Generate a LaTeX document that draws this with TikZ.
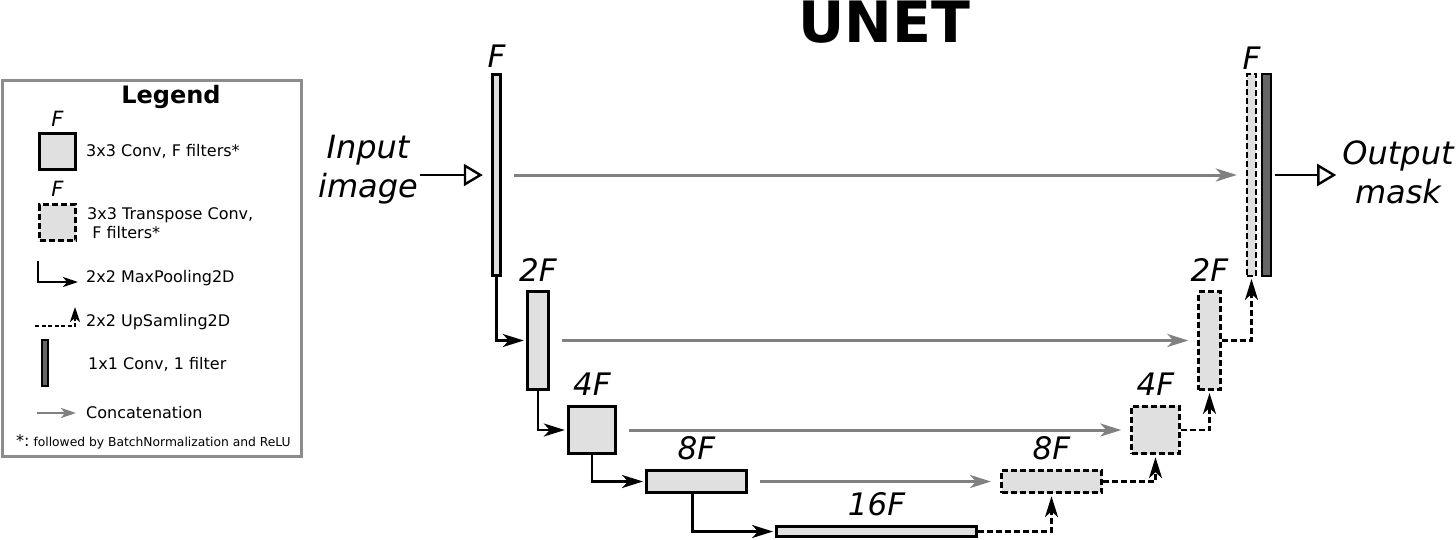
\documentclass[tikz,border=0pt]{standalone}
\usepackage{fontspec}
\setmainfont{DejaVu Sans}[ItalicFont={DejaVu Sans Oblique},BoldFont={DejaVu Sans Bold},BoldItalicFont={DejaVu Sans Bold Oblique}]
\usetikzlibrary{arrows.meta,positioning}

\definecolor{boxfill}{HTML}{E0E0E0}
\definecolor{onefill}{HTML}{666666}
\definecolor{catgray}{HTML}{808080}
\definecolor{leggray}{HTML}{8C8C8C}

\tikzset{
	conv/.style={draw=black,line width=2.9pt,fill=boxfill,inner sep=0pt},
	tconv/.style={conv,dash pattern=on 6pt off 3pt},
	oneconv/.style={conv,line width=2.2pt,fill=onefill},
	lbl/.style={font=\fontsize{31}{31}\selectfont\itshape,inner sep=0pt},
	leglbl/.style={font=\fontsize{21}{21}\selectfont\itshape,inner sep=0pt},
	pool/.style={line width=2.6pt,shorten >=2pt,-{Stealth[length=21pt,width=13pt,inset=6pt]}},
	upsmp/.style={pool,dash pattern=on 6pt off 3pt},
	concat/.style={draw=catgray,line width=3pt,shorten <=12pt,shorten >=9pt,-{Stealth[length=21pt,width=13pt,inset=6pt]}},
	legpool/.style={line width=2.3pt,-{Stealth[length=15pt,width=10pt,inset=4pt]}},
	legup/.style={legpool,dash pattern=on 4pt off 2.5pt},
	legcat/.style={draw=catgray,line width=2.6pt,-{Stealth[length=15pt,width=10pt,inset=4pt]}},
	io/.style={line width=2.4pt,-{Triangle[open,length=19pt,width=22pt,fill=white]}},
	iotext/.style={font=\fontsize{32}{39}\selectfont\itshape,align=center,inner sep=2pt},
	legtext/.style={font=\fontsize{16}{19}\selectfont,anchor=west,inner sep=0pt,align=left}
}

\begin{document}
\begin{tikzpicture}[x=1pt,y=-1pt]
	\useasboundingbox (0,0) rectangle (1456,539);
	\node[font=\fontsize{57}{57}\selectfont\bfseries,anchor=base,inner sep=0pt] (title) at (884,42) {UNET};

	% legend
	\node[draw=leggray,line width=2.2pt,minimum width=299pt,minimum height=376pt,inner sep=0pt] (legend) at (152,268.5) {};
	\node[font=\fontsize{24}{24}\selectfont\bfseries] (legtitle) at (171,97) {Legend};
	\node[conv,minimum width=36pt,minimum height=36pt] (legconv) at (57.5,151.5) {};
	\node[leglbl,above=5pt of legconv] (lleg1) {F};
	\node[legtext] (tconvtxt) at (86,151) {3x3 Conv, F filters*};
	\node[tconv,minimum width=36pt,minimum height=36pt] (legtconv) at (57.5,222.5) {};
	\node[leglbl,above=6pt of legtconv] (lleg2) {F};
	\node[legtext] (ttconvtxt) at (87,223.5) {3x3 Transpose Conv,\\\ F filters*};
	\coordinate (pa) at (38,261);
	\coordinate (pb) at (78,282);
	\draw[legpool] (pa) |- (pb);
	\node[legtext] (pooltxt) at (86,278) {2x2 MaxPooling2D};
	\coordinate (ua) at (35,326);
	\coordinate (ub) at (75,307);
	\draw[legup] (ua) -| (ub);
	\node[legtext] (uptxt) at (86,322) {2x2 UpSamling2D};
	\node[oneconv,line width=1.8pt,minimum width=6.5pt,minimum height=46pt] (legone) at (45,363) {};
	\node[legtext] (onetxt) at (88,364) {1x1 Conv, 1 filter};
	\coordinate (ca) at (37,413);
	\coordinate (cb) at (76,413);
	\draw[legcat] (ca) -- (cb);
	\node[legtext] (cattxt) at (86,413) {Concatenation};
	\node[anchor=west,inner sep=0pt] (foot) at (16,442) {\fontsize{16}{16}\selectfont*:\fontsize{12.3}{12}\selectfont\ followed by BatchNormalization and ReLU};

	% encoder
	\node[conv,minimum width=8.5pt,minimum height=201pt] (enc1) at (496.5,175) {};
	\node[conv,minimum width=21.5pt,minimum height=98pt] (enc2) at (538,340.5) {};
	\node[conv,minimum width=47.5pt,minimum height=47.5pt] (enc3) at (592,430) {};
	\node[conv,minimum width=100pt,minimum height=22.5pt] (enc4) at (696.5,481.5) {};
	\node[conv,minimum width=200pt,minimum height=10.5pt] (bott) at (876.5,531.5) {};
	\node[lbl,above=5pt of enc1] (lenc1) {F};
	\node[lbl,above=8pt of enc2] (lenc2) {2F};
	\node[lbl,above=9pt of enc3] (lenc3) {4F};
	\node[lbl,above=9pt of enc4] (lenc4) {8F};
	\node[lbl,above=9pt of bott] (lbott) {16F};

	% decoder
	\node[tconv,minimum width=100pt,minimum height=22.5pt] (dec4) at (1051.5,481.5) {};
	\node[tconv,minimum width=47.5pt,minimum height=47.5pt] (dec3) at (1155.5,430) {};
	\node[tconv,minimum width=21.5pt,minimum height=98pt] (dec2) at (1209.5,340.5) {};
	\node[tconv,line width=2.3pt,minimum width=9pt,minimum height=201.5pt] (dec1) at (1251.5,175) {};
	\node[oneconv,minimum width=9pt,minimum height=201.5pt] (outc) at (1266.5,175) {};
	\node[lbl,above=9pt of dec4] (ldec4) {8F};
	\node[lbl,above=9pt of dec3] (ldec3) {4F};
	\node[lbl,above=8pt of dec2] (ldec2) {2F};
	\node[lbl,above=3pt of dec1] (ldec1) {F};

	% input / output
	\node[iotext] (inp) at (368,170) {Input\\image};
	\node[iotext] (outp) at (1398,172) {Output\\mask};
	\draw[io,shorten >=8pt] (inp.east |- enc1.west) -- (enc1.west);
	\draw[io,shorten <=3pt,shorten >=4pt] (outc.east) -- (outc.east -| outp.west);

	% pooling and upsampling
	\draw[pool] (enc1.south) |- (enc2.west);
	\draw[pool] (enc2.south) |- (enc3.west);
	\draw[pool] (enc3.south) |- (enc4.west);
	\draw[pool] ([xshift=-4pt]enc4.south) |- (bott.west);
	\draw[upsmp] (bott.east) -| (dec4.south);
	\draw[upsmp] (dec4.east) -| (dec3.south);
	\draw[upsmp] (dec3.east) -| (dec2.south);
	\draw[upsmp] (dec2.east) -| (dec1.south);

	% skip connections
	\draw[concat] (enc1.east) -- (dec1.west);
	\draw[concat] (enc2.east) -- (dec2.west);
	\draw[concat] (enc3.east) -- (dec3.west);
	\draw[concat] (enc4.east) -- (dec4.west);
\end{tikzpicture}
\end{document}
